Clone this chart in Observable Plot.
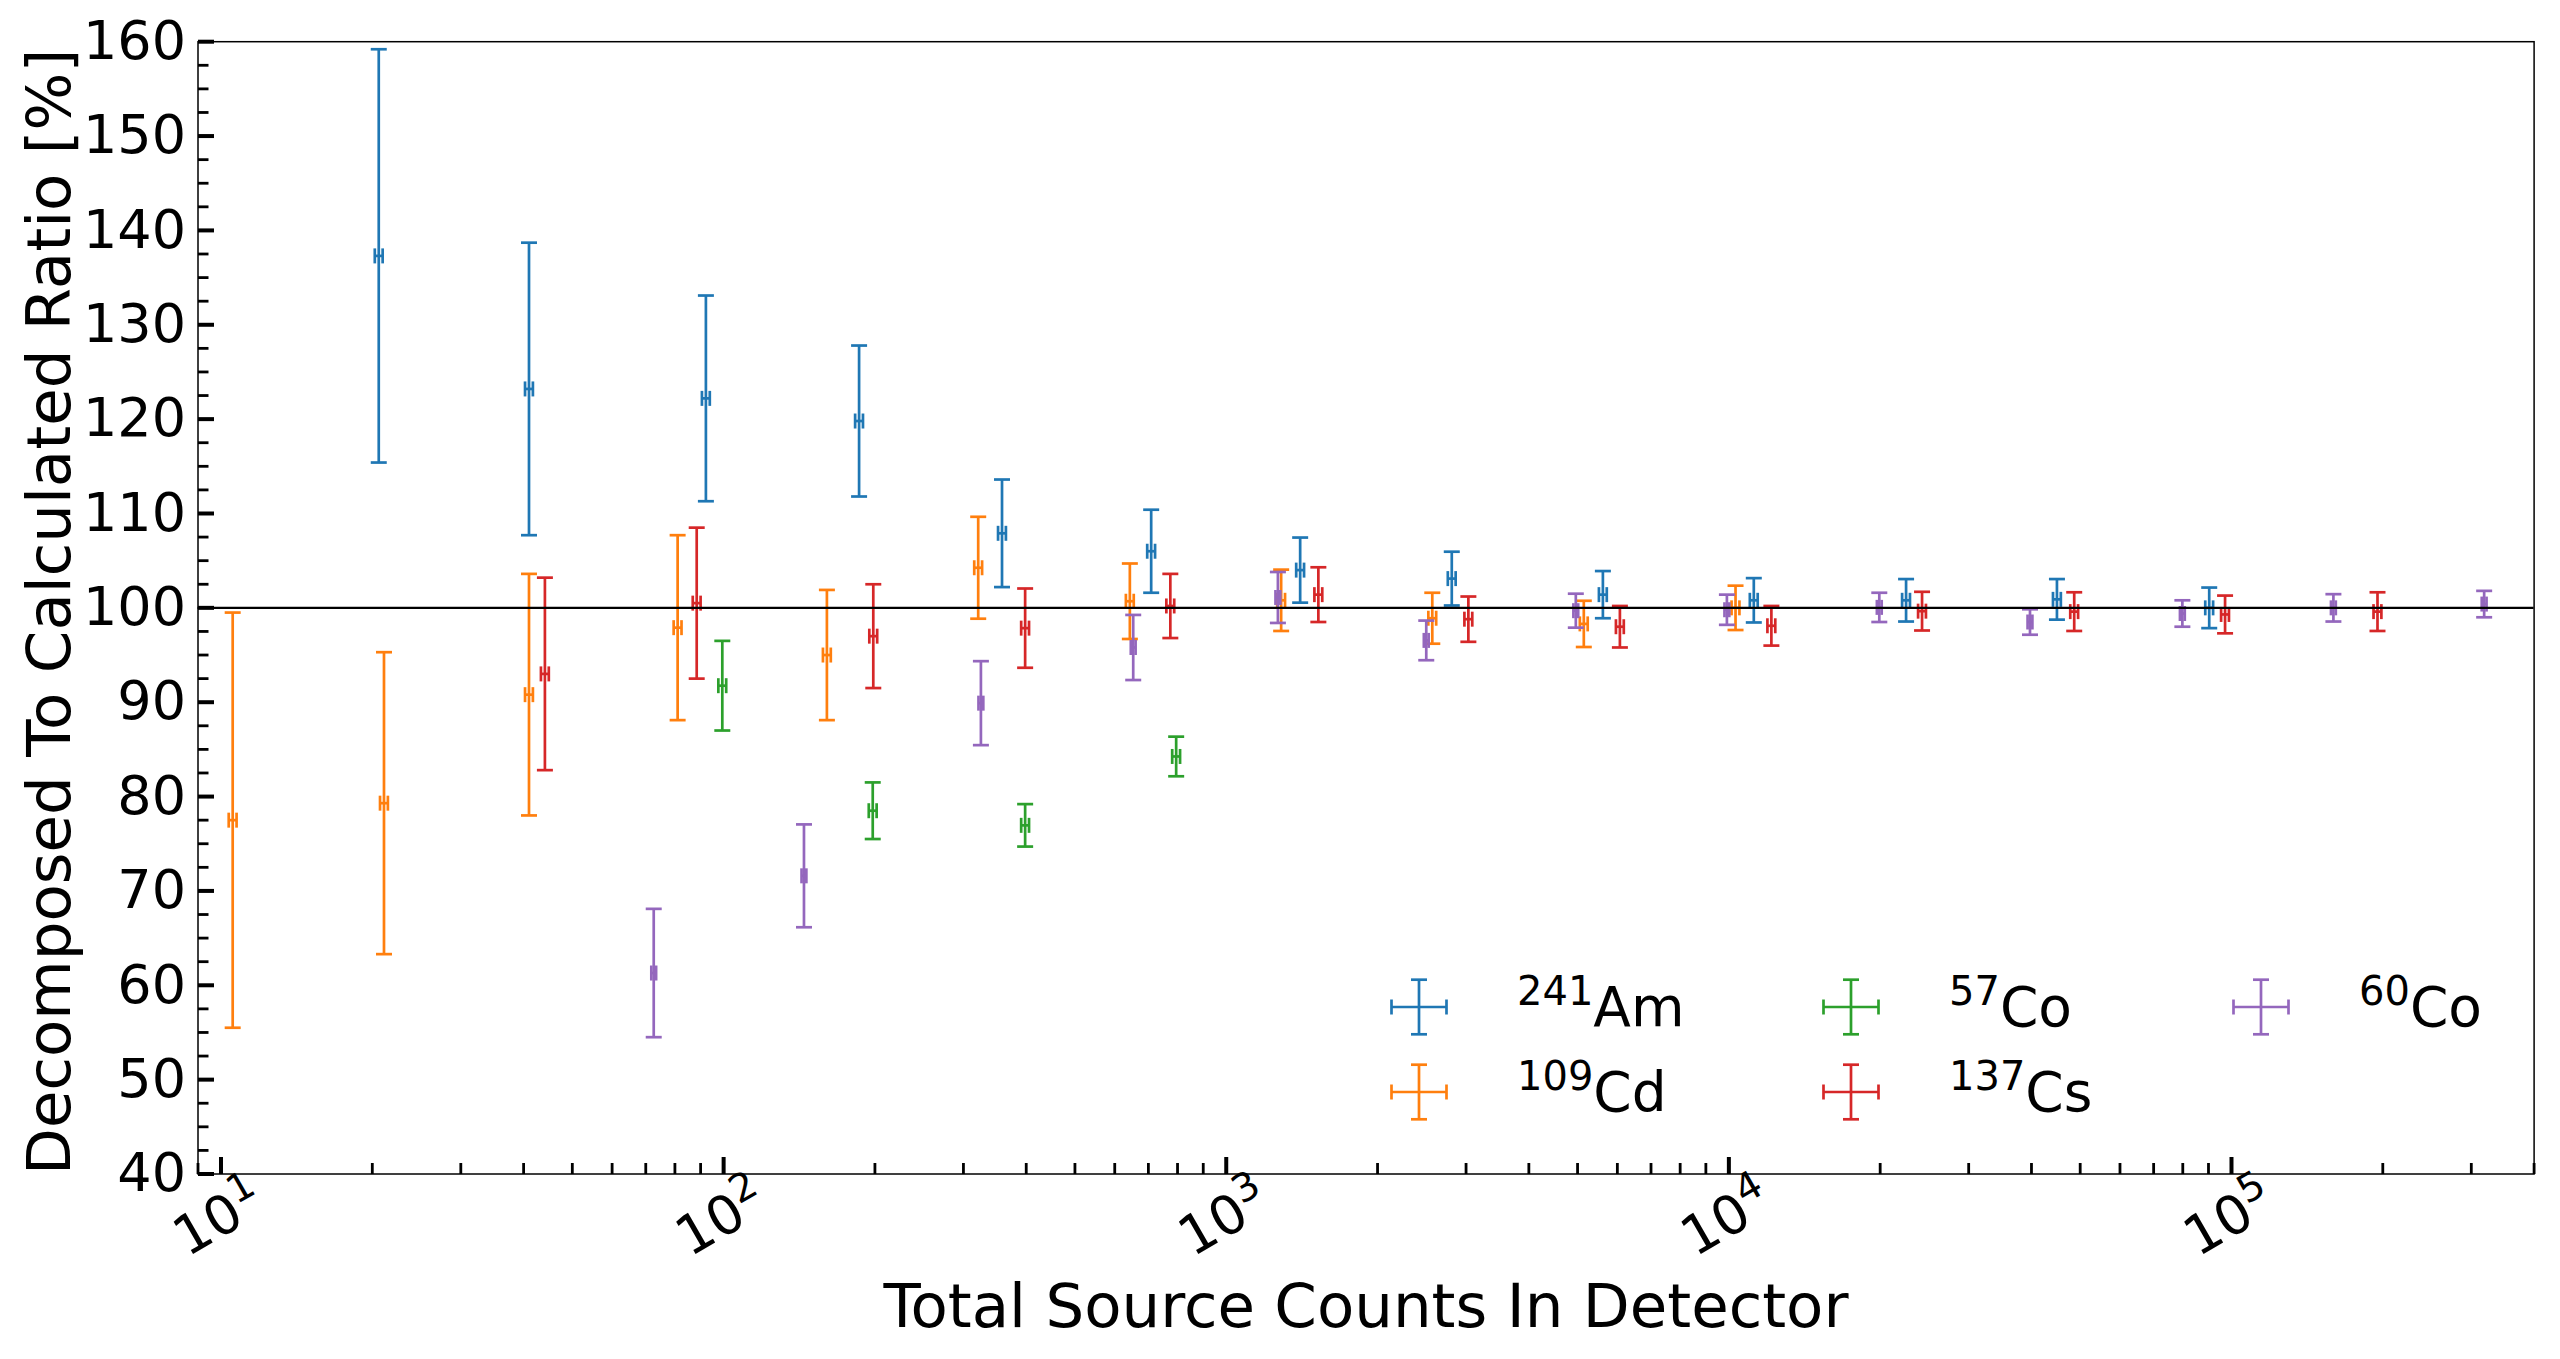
<!DOCTYPE html>
<html>
<head>
<meta charset="utf-8">
<script src="https://cdn.jsdelivr.net/npm/d3@7"></script>
<script src="https://cdn.jsdelivr.net/npm/@observablehq/plot@0.6"></script>
<style>
  html, body { margin: 0; padding: 0; background: #ffffff; }
  #wrap { position: relative; width: 2560px; height: 1359px; font-family: "DejaVu Sans"; }
  #legend { position: absolute; left: 0; top: 0; pointer-events: none; }
</style>
</head>
<body>
<div id="wrap"></div>
<script>
// ---------------- data ----------------
const massNumbers = ["241", "109", "57", "137", "60"];
const elements    = ["Am", "Cd", "Co", "Cs", "Co"];
const colors      = ["#1f77b4", "#ff7f0e", "#2ca02c", "#d62728", "#9467bd"];
const xRelErr     = [0.018, 0.018, 0.018, 0.018, 0.011];

// 241Am
const am241Counts = [20.6, 41.0, 92.2, 186, 358, 709, 1403, 2810, 5615, 11210, 22520, 44950, 90300];
const am241Ratio  = [137.3, 123.2, 122.2, 119.8, 107.9, 106.0, 104.0, 103.1, 101.4, 100.8, 100.8, 100.9, 100.0];
const am241Err    = [21.9, 15.5, 10.9, 8.0, 5.7, 4.4, 3.45, 2.85, 2.5, 2.35, 2.25, 2.15, 2.15];

// 109Cd
const cd109Counts = [10.55, 21.1, 41.0, 81.0, 160.5, 321, 643, 1286, 2570, 5145, 10310];
const cd109Ratio  = [77.5, 79.3, 90.8, 97.9, 95.0, 104.25, 100.7, 100.8, 98.9, 98.3, 100.0];
const cd109Err    = [22.0, 16.0, 12.8, 9.8, 6.9, 5.4, 4.0, 3.25, 2.7, 2.45, 2.35];

// 57Co
const co57Counts = [99.4, 198, 398, 795];
const co57Ratio  = [91.75, 78.5, 76.95, 84.25];
const co57Err    = [4.75, 3.0, 2.25, 2.1];

// 137Cs
const cs137Counts = [44.1, 88.4, 198.5, 398, 774, 1525, 3032, 6070, 12150, 24230, 48650, 97100, 195200];
const cs137Ratio  = [93.0, 100.5, 97.0, 97.85, 100.2, 101.4, 98.8, 98.0, 98.1, 99.65, 99.6, 99.3, 99.6];
const cs137Err    = [10.2, 8.0, 5.5, 4.2, 3.4, 2.9, 2.4, 2.2, 2.1, 2.05, 2.05, 2.0, 2.05];

// 60Co
const co60Counts = [72.6, 144.5, 325, 653, 1267, 2500, 4960, 9910, 19920, 39730, 79850, 159500, 318200];
const co60Ratio  = [61.3, 71.6, 89.9, 95.8, 101.1, 96.55, 99.7, 99.8, 100.05, 98.5, 99.4, 100.0, 100.4];
const co60Err    = [6.8, 5.45, 4.45, 3.45, 2.7, 2.1, 1.8, 1.6, 1.55, 1.35, 1.4, 1.45, 1.4];

// axes
const yMajorTicks = [40, 50, 60, 70, 80, 90, 100, 110, 120, 130, 140, 150, 160];
const xMajorTicks = [10, 100, 1000, 10000, 100000];
const xTickExponents = ["1", "2", "3", "4", "5"];
const xDomain = [9, 4e5];
const yDomain = [40, 160];
const referenceLine = [100];
const xTitle = "Total Source Counts In Detector";
const yTitle = "Decomposed To Calculated Ratio [%]";

// ---------------- build ----------------
const seriesX   = [am241Counts, cd109Counts, co57Counts, cs137Counts, co60Counts];
const seriesY   = [am241Ratio, cd109Ratio, co57Ratio, cs137Ratio, co60Ratio];
const seriesErr = [am241Err, cd109Err, co57Err, cs137Err, co60Err];

const series = seriesX.map((xs, s) => ({
  color: colors[s],
  xe: xRelErr[s],
  rows: xs.map((x, i) => ({x, y: seriesY[s][i], e: seriesErr[s][i]}))
}));

const yMinorTicks = d3.range(40, 160.01, 2.5).filter(v => v % 10 !== 0);
const xMinorTicks = [];
for (let k = 0; k <= 5; k++) for (let m = 1; m <= 9; m++) {
  const v = m * Math.pow(10, k);
  if (m !== 1 && v >= xDomain[0] && v <= xDomain[1] * 1.0001) xMinorTicks.push(v);
}

// custom symbols (length from dot radius)
const len = size => Math.sqrt(size / Math.PI);
const hcap = {draw(c, s) { const r = len(s); c.moveTo(-r, 0); c.lineTo(r, 0); }};
const vcap = {draw(c, s) { const r = len(s); c.moveTo(0, -r); c.lineTo(0, r); }};
const tickRight = {draw(c, s) { const r = len(s); c.moveTo(0, 0); c.lineTo(r, 0); }};
const tickUp = {draw(c, s) { const r = len(s); c.moveTo(0, 0); c.lineTo(0, -r); }};

const W = 2560, H = 1359;
const mL = 197.5, mR = 26.4, mT = 41.2, mB = 185.5;
const lw = 2.7;

const marks = [];
for (const s of series) {
  const st = {stroke: s.color, strokeWidth: lw, fill: "none"};
  marks.push(Plot.ruleX(s.rows, {x: "x", y1: d => d.y - d.e, y2: d => d.y + d.e, stroke: s.color, strokeWidth: lw}));
  marks.push(Plot.ruleY(s.rows, {y: "y", x1: d => d.x * (1 - s.xe), x2: d => d.x * (1 + s.xe), stroke: s.color, strokeWidth: lw}));
  marks.push(Plot.dot(s.rows, {x: "x", y: d => d.y + d.e, symbol: hcap, r: 8, ...st}));
  marks.push(Plot.dot(s.rows, {x: "x", y: d => d.y - d.e, symbol: hcap, r: 8, ...st}));
  marks.push(Plot.dot(s.rows, {x: d => d.x * (1 - s.xe), y: "y", symbol: vcap, r: 7.5, ...st}));
  marks.push(Plot.dot(s.rows, {x: d => d.x * (1 + s.xe), y: "y", symbol: vcap, r: 7.5, ...st}));
}

const plot = Plot.plot({
  width: W, height: H,
  marginLeft: mL, marginRight: mR, marginTop: mT, marginBottom: mB,
  style: {fontFamily: "DejaVu Sans", fontSize: "54px", color: "black", background: "white", overflow: "visible"},
  x: {type: "log", domain: xDomain, axis: null},
  y: {type: "linear", domain: yDomain, axis: null},
  marks: [
    ...marks,
    Plot.ruleY(referenceLine, {stroke: "black", strokeWidth: 2.4}),
    Plot.frame({stroke: "black", strokeWidth: 1.5}),
    // y ticks (inward)
    Plot.dot(yMajorTicks, {y: d => d, frameAnchor: "left", symbol: tickRight, r: 16, stroke: "black", strokeWidth: 4, fill: "none"}),
    Plot.dot(yMinorTicks, {y: d => d, frameAnchor: "left", symbol: tickRight, r: 10.5, stroke: "black", strokeWidth: 2.8, fill: "none"}),
    // x ticks (inward)
    Plot.dot(xMajorTicks, {x: d => d, frameAnchor: "bottom", symbol: tickUp, r: 17, stroke: "black", strokeWidth: 4, fill: "none"}),
    Plot.dot(xMinorTicks, {x: d => d, frameAnchor: "bottom", symbol: tickUp, r: 11, stroke: "black", strokeWidth: 2.8, fill: "none"}),
    // tick labels
    Plot.text(yMajorTicks, {y: d => d, frameAnchor: "left", text: d => String(d), textAnchor: "end", lineAnchor: "middle", dx: -12, fontSize: 54}),
    Plot.text(xMajorTicks, {x: d => d, frameAnchor: "bottom", text: (d, i) => "10^" + xTickExponents[i], rotate: -30, textAnchor: "middle", lineAnchor: "middle", dx: -2, dy: 45, fontSize: 54}),
    // axis titles
    Plot.text([yTitle], {frameAnchor: "left", text: d => d, rotate: -90, textAnchor: "middle", lineAnchor: "bottom", dx: -128, dy: 4, fontSize: 61}),
    Plot.text([xTitle], {frameAnchor: "bottom", text: d => d, textAnchor: "middle", lineAnchor: "bottom", dx: 0, dy: 152.5, fontSize: 61})
  ]
});

// superscripts on x tick labels
plot.querySelectorAll("text").forEach(t => {
  const m = t.textContent.match(/^10\^(\d+)$/);
  if (m) {
    t.textContent = "";
    const ns = "http://www.w3.org/2000/svg";
    const a = document.createElementNS(ns, "tspan"); a.textContent = "10";
    const b = document.createElementNS(ns, "tspan"); b.textContent = m[1];
    b.setAttribute("font-size", "39"); b.setAttribute("dy", "-21");
    t.appendChild(a); t.appendChild(b);
  }
});

const wrap = document.getElementById("wrap");
wrap.appendChild(plot);

// ---------------- legend (overlay) ----------------
const legendColX = [1419, 1851, 2261];
const legendRowY = [1007, 1092];
const lg = d3.select(wrap).append("svg").attr("id", "legend").attr("width", W).attr("height", H)
  .attr("font-family", "DejaVu Sans");
massNumbers.forEach((mn, i) => {
  const cx = legendColX[Math.floor(i / 2)], cy = legendRowY[i % 2];
  const g = lg.append("g").attr("transform", `translate(${cx},${cy})`)
    .attr("stroke", colors[i]).attr("stroke-width", lw).attr("fill", "none");
  g.append("line").attr("x1", -27.5).attr("x2", 27.5).attr("y1", 0).attr("y2", 0);
  g.append("line").attr("x1", 0).attr("x2", 0).attr("y1", -27.3).attr("y2", 27.3);
  g.append("line").attr("x1", -8).attr("x2", 8).attr("y1", -27.3).attr("y2", -27.3);
  g.append("line").attr("x1", -8).attr("x2", 8).attr("y1", 27.3).attr("y2", 27.3);
  g.append("line").attr("x1", -27.5).attr("x2", -27.5).attr("y1", -7.5).attr("y2", 7.5);
  g.append("line").attr("x1", 27.5).attr("x2", 27.5).attr("y1", -7.5).attr("y2", 7.5);
  const t = lg.append("text").attr("x", cx + 98).attr("y", cy + 19).attr("font-size", 55).attr("fill", "black");
  t.append("tspan").attr("font-size", 40).attr("dy", -21).text(mn);
  t.append("tspan").attr("dy", 21).text(elements[i]);
});
</script>
</body>
</html>
